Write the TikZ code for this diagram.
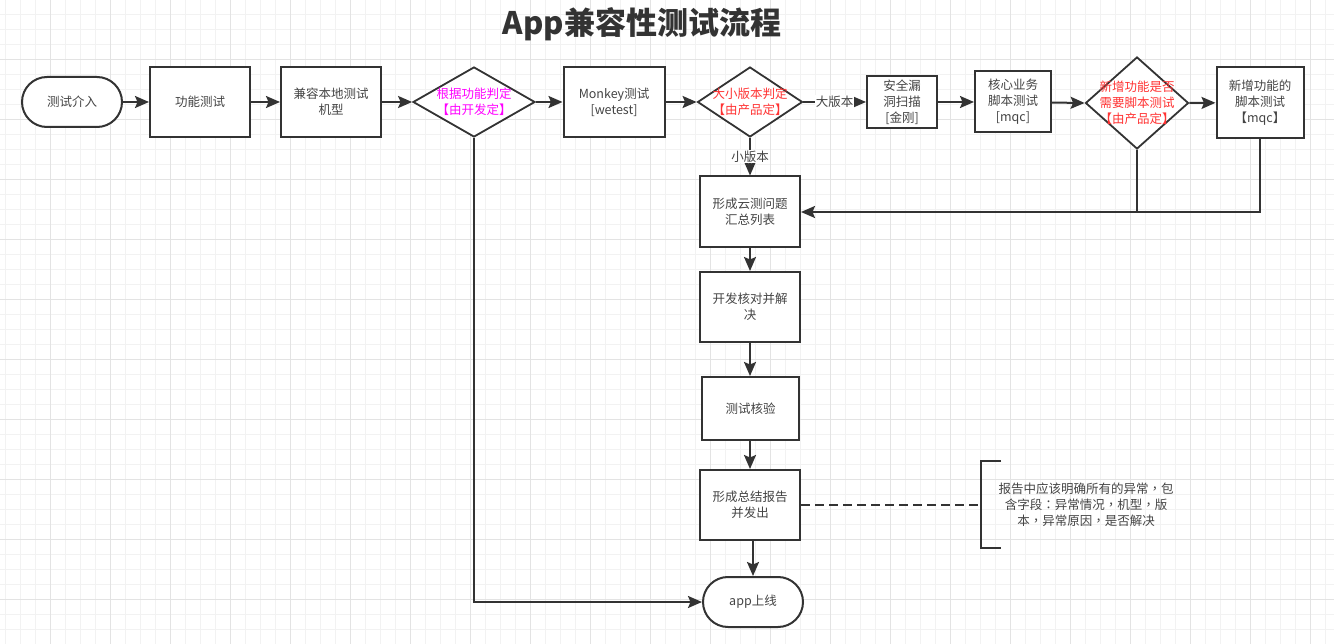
\documentclass[tikz,border=0pt]{standalone}
\usepackage{fontspec}
\setmainfont{Noto Sans CJK SC}
\newfontfamily\tcpunct{Noto Sans CJK TC}
\usetikzlibrary{shapes.geometric,arrows.meta}
\definecolor{ln}{HTML}{333333}
\definecolor{tx}{HTML}{444444}
\definecolor{gminor}{HTML}{F2F2F2}
\definecolor{gmajor}{HTML}{E3E3E3}
\definecolor{mag}{HTML}{FF00FF}
\definecolor{rd}{HTML}{FF3333}
\newcommand{\pc}{{\tcpunct ，}}
\newcommand{\pcol}{{\tcpunct ：}}
\tikzset{
  box/.style={draw=ln, line width=2pt, fill=white, inner sep=0pt, align=center, text=tx, font=\fontsize{12.5}{16}\selectfont},
  term/.style={box, rounded corners=25pt, minimum width=100pt, minimum height=50pt},
  dia/.style={draw=ln, line width=1.8pt, fill=white, diamond, inner sep=0pt},
  dtxt/.style={align=center, inner sep=0pt, font=\fontsize{12.5}{16}\selectfont},
  conn/.style={draw=ln, line width=2pt, -{Stealth[length=14pt,width=12pt,inset=2.5pt]}},
  lbl/.style={fill=white, inner sep=1pt, text=tx, font=\fontsize{12.5}{16}\selectfont},
}
\begin{document}
\begin{tikzpicture}[x=1pt,y=-1pt]
\useasboundingbox (0,0) rectangle (1334,644);
\fill[white] (0,0) rectangle (1334,644);
% grid
\foreach \x in {5,20,...,1334} \draw[gminor, line width=0.8pt] (\x,0) -- (\x,644);
\foreach \y in {14.3,29.3,...,644} \draw[gminor, line width=0.8pt] (0,\y) -- (1334,\y);
\foreach \x in {50,110,...,1334} \draw[gmajor, line width=0.8pt] (\x,0) -- (\x,644);
\foreach \y in {59.3,119.3,...,644} \draw[gmajor, line width=0.8pt] (0,\y) -- (1334,\y);

% title
\node[text=ln, font=\fontsize{31}{35}\selectfont\bfseries] (title) at (642,24) {App兼容性测试流程};

% top row
\node[term] (start) at (72,102) {测试介入};
\node[box, minimum width=100pt, minimum height=70pt] (func) at (200,102) {功能测试};
\node[box, minimum width=100pt, minimum height=70pt] (compat) at (331,102) {兼容本地测试\\机型};
\node[dia, minimum width=122pt, minimum height=70pt,
      label={[dtxt, text=mag]center:根据功能判定\\【由开发定】}] (d1) at (474,102) {};
\node[box, minimum width=101pt, minimum height=70pt] (monkey) at (614,102) {Monkey测试\\{[wetest]}};
\node[dia, minimum width=105pt, minimum height=70pt,
      label={[dtxt, text=rd]center:大小版本判定\\【由产品定】}] (d2) at (750,102) {};
\node[box, minimum width=70pt, minimum height=52pt] (sec) at (902,102) {安全漏\\洞扫描\\{[金刚]}};
\node[box, minimum width=76pt, minimum height=61pt] (core) at (1013,102) {核心业务\\脚本测试\\{[mqc]}};
\node[dia, minimum width=103pt, minimum height=92pt,
      label={[dtxt, text=rd]center:新增功能是否\\需要脚本测试\\【由产品定】}] (d3) at (1137,103) {};
\node[box, minimum width=87pt, minimum height=71pt] (newf) at (1260,102.5) {新增功能的\\脚本测试\\【mqc】};

% vertical column
\node[box, minimum width=100pt, minimum height=71pt] (cloud) at (750,212) {形成云测问题\\汇总列表};
\node[box, minimum width=100pt, minimum height=70pt] (dev) at (750,307) {开发核对并解\\决};
\node[box, minimum width=97pt, minimum height=63pt] (verify) at (750.5,408.5) {测试核验};
\node[box, minimum width=100pt, minimum height=70pt] (report) at (750,505) {形成总结报告\\并发出};
\node[term] (online) at (753,602) {app上线};

% note
\node[text=tx, align=center, inner sep=0pt, font=\fontsize{12.5}{16}\selectfont] (note) at (1086,505)
  {报告中应该明确所有的异常\pc 包\\含字段\pcol 异常情况\pc 机型\pc 版\\本\pc 异常原因\pc 是否解决};
\coordinate (brT) at (1001,461);
\coordinate (brTL) at (981,461);
\coordinate (brB) at (1001,548);
\coordinate (brBL) at (981,548);
\coordinate (brM) at (981,505);
\draw[ln, line width=2pt] (brT) -- (brTL) -- (brBL) -- (brB);
\draw[ln, line width=2pt, dash pattern=on 9pt off 5pt] (report.east) -- (brM);

% connectors
\draw[conn] (start) -- (func);
\draw[conn] (func) -- (compat);
\draw[conn] (compat) -- (d1.west);
\draw[conn] (d1.east) -- (monkey);
\draw[conn] (monkey) -- (d2.west);
\draw[conn] (d2.east) -- node[lbl] {大版本} (sec);
\draw[conn] (sec) -- (core);
\draw[conn] (core) -- (d3.west);
\draw[conn] (d3.east) -- (newf);
\draw[conn] (d2.south) -- node[lbl] {小版本} (cloud);
\coordinate (m1) at (d3.south |- cloud.east);
\coordinate (m2) at (newf.south |- cloud.east);
\draw[ln, line width=2pt] (d3.south) -- (m1);
\draw[conn] (newf.south) -- (m2) -- (cloud.east);
\draw[conn] (cloud) -- (dev);
\draw[conn] (dev.south) -- (dev.south |- verify.north);
\draw[conn] (verify.south -| report.north) -- (report.north);
\draw[conn] (report.south -| online.north) -- (online.north);
\draw[conn] (d1.south) |- (online.west);
\end{tikzpicture}
\end{document}
